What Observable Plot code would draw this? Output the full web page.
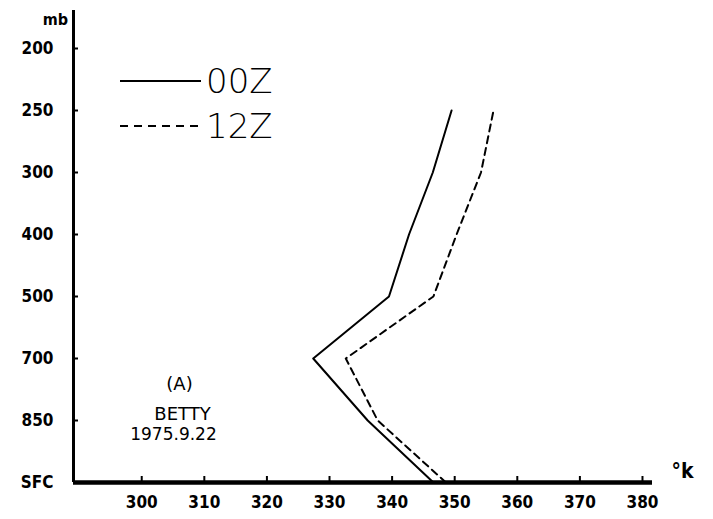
<!DOCTYPE html>
<html>
<head>
<meta charset="utf-8">
<script src="https://cdn.jsdelivr.net/npm/d3@7"></script>
<script src="https://cdn.jsdelivr.net/npm/@observablehq/plot@0.6"></script>
<style>
  html, body { margin: 0; padding: 0; background: #fff; }
  #chart { width: 713px; height: 519px; }
</style>
</head>
<body>
<div id="chart"></div>
<script>
// ---- data ----
const levels = ["SFC", "850", "700", "500", "400", "300", "250", "200"];
const soundingLevels = ["SFC", "850", "700", "500", "400", "300", "250"];
const theta00Z = [346.6, 336.1, 327.4, 339.5, 342.7, 346.5, 349.5];
const theta12Z = [348.6, 337.7, 332.6, 346.6, 350.3, 354.2, 356.2];
const seriesNames = ["00Z", "12Z"];
const xTickValues = [300, 310, 320, 330, 340, 350, 360, 370, 380];
const xDomain = [289.1, 381.6];
const annotationLines = ["(A)", "BETTY", "1975.9.22"];
const yUnit = "mb";
const xUnit = "°k";

// ---- table built from arrays ----
const rows = [];
soundingLevels.forEach((lv, i) => {
  rows.push({level: lv, theta: theta00Z[i], series: seriesNames[0]});
});
soundingLevels.forEach((lv, i) => {
  rows.push({level: lv, theta: theta12Z[i], series: seriesNames[1]});
});

const W = 713, H = 519;
const mL = 73, mR = 61, mT = 10, mB = 37;
const plotW = W - mL - mR, plotH = H - mT - mB;

const tickFont = "'DejaVu Sans Condensed', 'DejaVu Sans', sans-serif";
const textFont = "'DejaVu Sans', sans-serif";

// legend drawn as a custom render mark
function legendMark(index, scales, values, dimensions) {
  const g = d3.create("svg:g");
  const items = [
    {name: seriesNames[0], dash: null, y: 81},
    {name: seriesNames[1], dash: "8,6", y: 126}
  ];
  for (const it of items) {
    g.append("line")
      .attr("x1", 120).attr("x2", 201)
      .attr("y1", it.y).attr("y2", it.y)
      .attr("stroke", "#000").attr("stroke-width", 2)
      .attr("stroke-dasharray", it.dash);
    g.append("text")
      .attr("x", 206).attr("y", it.y)
      .attr("dy", "0.36em")
      .attr("text-anchor", "start")
      .attr("font-family", "'DejaVu Sans ExtraLight', 'DejaVu Sans', sans-serif")
      .attr("font-weight", 200)
      .attr("font-size", 34)
      .attr("fill", "#000")
      .text(it.name);
  }
  return g.node();
}

const chart = Plot.plot({
  width: W,
  height: H,
  marginLeft: mL,
  marginRight: mR,
  marginTop: mT,
  marginBottom: mB,
  style: {fontFamily: tickFont, background: "#fff", color: "#000"},
  x: {domain: xDomain, label: null},
  y: {type: "point", domain: levels, range: [H - mB, 47], padding: 0, label: null},
  marks: [
    // axes lines
    Plot.ruleX([xDomain[0]], {stroke: "#000", strokeWidth: 3}),
    Plot.ruleY([levels[0]], {stroke: "#000", strokeWidth: 4.5}),
    // inward ticks
    Plot.tickX(xTickValues, {x: d => d, stroke: "#000", strokeWidth: 2, insetTop: plotH - 6}),
    Plot.tickY(levels.slice(1), {y: d => d, stroke: "#000", strokeWidth: 2, insetRight: plotW - 5}),
    // tick labels
    Plot.axisX({ticks: xTickValues, tickSize: 0, tickPadding: 13, fontSize: 17, fontWeight: "bold", tickFormat: d => String(d), label: null}),
    Plot.axisY({tickSize: 0, tickPadding: 20, fontSize: 17, fontWeight: "bold", label: null}),
    // data lines
    Plot.line(rows.filter(d => d.series === seriesNames[0]), {
      x: "theta", y: "level", stroke: "#000", strokeWidth: 2, curve: "linear"
    }),
    Plot.line(rows.filter(d => d.series === seriesNames[1]), {
      x: "theta", y: "level", stroke: "#000", strokeWidth: 2, strokeDasharray: "7,5", curve: "linear"
    }),
    // unit labels
    Plot.text([yUnit], {frameAnchor: "top-left", dx: -18, dy: 3, fontSize: 16, fontWeight: "bold", textAnchor: "middle"}),
    Plot.text([xUnit], {frameAnchor: "bottom-right", dx: 30, dy: -5, fontSize: 21, fontWeight: "bold", textAnchor: "middle"}),
    // annotation
    Plot.text([annotationLines[0]], {frameAnchor: "bottom-left", dx: 106, dy: -93, fontSize: 18, textAnchor: "middle", fontFamily: textFont}),
    Plot.text([annotationLines[1]], {frameAnchor: "bottom-left", dx: 109, dy: -63, fontSize: 18, textAnchor: "middle", fontFamily: textFont, letterSpacing: "1.5px"}),
    Plot.text([annotationLines[2]], {frameAnchor: "bottom-left", dx: 100, dy: -43, fontSize: 17, textAnchor: "middle", fontFamily: textFont}),
    legendMark
  ]
});

document.getElementById("chart").appendChild(chart);
</script>
</body>
</html>
